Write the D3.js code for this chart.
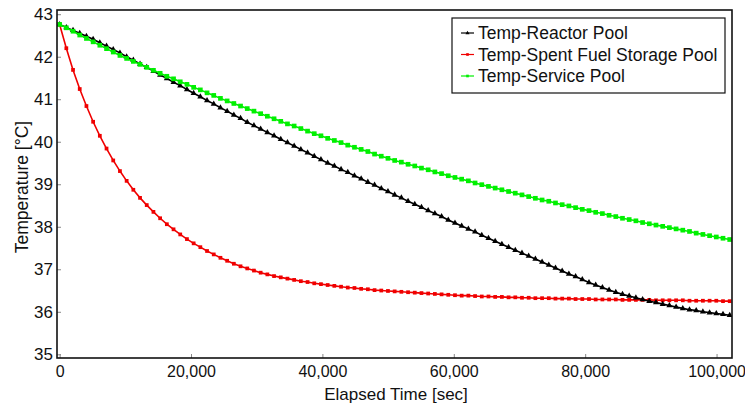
<!DOCTYPE html>
<html>
<head>
<meta charset="utf-8">
<script src="https://cdn.jsdelivr.net/npm/d3@7"></script>
<style>
  html, body { margin: 0; padding: 0; background: #fff; }
  svg { display: block; }
  text { font-family: Arial, "Liberation Sans", sans-serif; fill: #111; }
</style>
</head>
<body>
<svg id="chart" width="745" height="405"></svg>
<script>
// ---- Data ----
const times = [0,1020,2040,3060,4080,5100,6120,7140,8160,9180,10200,11220,12240,13260,14280,15300,16320,17340,18360,19380,20400,21420,22440,23460,24480,25500,26520,27540,28560,29580,30600,31620,32640,33660,34680,35700,36720,37740,38760,39780,40800,41820,42840,43860,44880,45900,46920,47940,48960,49980,51000,52020,53040,54060,55080,56100,57120,58140,59160,60180,61200,62220,63240,64260,65280,66300,67320,68340,69360,70380,71400,72420,73440,74460,75480,76500,77520,78540,79560,80580,81600,82620,83640,84660,85680,86700,87720,88740,89760,90780,91800,92820,93840,94860,95880,96900,97920,98940,99960,100980,102000];

const reactorPool = [42.76,42.69,42.62,42.55,42.48,42.41,42.33,42.25,42.17,42.09,42.00,41.92,41.83,41.75,41.66,41.57,41.49,41.40,41.32,41.23,41.14,41.06,40.97,40.89,40.80,40.72,40.63,40.55,40.46,40.38,40.30,40.22,40.14,40.06,39.98,39.90,39.82,39.74,39.66,39.58,39.50,39.43,39.35,39.28,39.20,39.13,39.05,38.98,38.90,38.83,38.75,38.68,38.60,38.53,38.46,38.38,38.31,38.24,38.16,38.09,38.02,37.95,37.88,37.80,37.73,37.66,37.59,37.52,37.45,37.38,37.31,37.24,37.17,37.10,37.03,36.96,36.89,36.83,36.76,36.69,36.63,36.57,36.51,36.46,36.41,36.37,36.33,36.29,36.25,36.22,36.18,36.15,36.11,36.08,36.05,36.03,36.00,35.98,35.96,35.94,35.92];

const spentFuelPool = [42.76,42.20,41.69,41.24,40.84,40.47,40.14,39.84,39.56,39.31,39.08,38.87,38.68,38.51,38.35,38.20,38.06,37.94,37.82,37.71,37.61,37.52,37.43,37.35,37.27,37.20,37.13,37.07,37.02,36.97,36.92,36.88,36.84,36.81,36.78,36.75,36.72,36.70,36.67,36.65,36.63,36.61,36.59,36.57,36.56,36.54,36.53,36.51,36.50,36.49,36.48,36.47,36.46,36.45,36.44,36.43,36.42,36.41,36.40,36.39,36.38,36.38,36.37,36.36,36.36,36.35,36.35,36.34,36.34,36.33,36.33,36.32,36.32,36.32,36.31,36.31,36.31,36.30,36.30,36.30,36.29,36.29,36.29,36.29,36.28,36.28,36.28,36.28,36.28,36.27,36.27,36.27,36.27,36.27,36.26,36.26,36.26,36.26,36.26,36.25,36.25];

const servicePool = [42.76,42.68,42.60,42.51,42.43,42.35,42.27,42.19,42.11,42.03,41.96,41.89,41.82,41.75,41.68,41.61,41.54,41.48,41.41,41.35,41.28,41.22,41.15,41.09,41.02,40.96,40.90,40.84,40.78,40.72,40.66,40.60,40.54,40.48,40.42,40.37,40.31,40.25,40.19,40.14,40.08,40.03,39.98,39.92,39.87,39.82,39.77,39.71,39.66,39.61,39.56,39.52,39.47,39.43,39.38,39.34,39.29,39.25,39.20,39.16,39.12,39.08,39.03,38.99,38.95,38.91,38.87,38.83,38.79,38.75,38.71,38.67,38.63,38.60,38.56,38.52,38.49,38.45,38.41,38.38,38.34,38.31,38.27,38.24,38.20,38.17,38.14,38.10,38.07,38.04,38.01,37.98,37.95,37.92,37.89,37.85,37.82,37.79,37.76,37.73,37.70];

const seriesNames = ["Temp-Reactor Pool", "Temp-Spent Fuel Storage Pool", "Temp-Service Pool"];
const seriesColors = ["#000000", "#f00000", "#00f000"];
const xTicks = [0, 20000, 40000, 60000, 80000, 100000];
const yTicks = [35, 36, 37, 38, 39, 40, 41, 42, 43];
const xTitle = "Elapsed Time [sec]";
const yTitle = "Temperature [\u00B0C]";

// ---- Layout ----
const plot = { left: 57, right: 732, top: 10, bottom: 358 };
const svg = d3.select("#chart");

const x = d3.scaleLinear().domain([-400, 102350]).range([plot.left, plot.right]);
const y = d3.scaleLinear().domain([34.913, 43.099]).range([plot.bottom, plot.top]);

svg.append("defs").append("clipPath").attr("id", "clip")
  .append("rect").attr("x", plot.left).attr("y", plot.top)
  .attr("width", plot.right - plot.left).attr("height", plot.bottom - plot.top);

const xAxis = d3.axisBottom(x).tickValues(xTicks).tickFormat(d3.format(",")).tickSizeInner(-4).tickSizeOuter(0).tickPadding(8);
const yAxis = d3.axisLeft(y).tickValues(yTicks).tickFormat(d3.format("d")).tickSizeInner(-4).tickSizeOuter(0).tickPadding(4);

const gx = svg.append("g").attr("transform", `translate(0,${plot.bottom})`).call(xAxis);
const gy = svg.append("g").attr("transform", `translate(${plot.left},0)`).call(yAxis);
[gx, gy].forEach(g => {
  g.select(".domain").remove();
  g.selectAll(".tick line").attr("stroke", "#888").attr("stroke-width", 1);
  g.selectAll(".tick text").attr("fill", "#111")
    .style("font-family", "Arial, 'Liberation Sans', sans-serif");
});
gx.selectAll(".tick text").style("font-size", "16px");
gy.selectAll(".tick text").style("font-size", "17px");

const seriesData = [reactorPool, spentFuelPool, servicePool];
const symbols = [
  d3.symbol().type(d3.symbolTriangle).size(16),
  d3.symbol().type(d3.symbolSquare).size(14),
  d3.symbol().type(d3.symbolSquare).size(22)
];
const order = [1, 0, 2];
const line = d3.line().x((d, i) => x(times[i])).y(d => y(d));
const plotG = svg.append("g").attr("clip-path", "url(#clip)");
order.forEach(k => {
  const g = plotG.append("g");
  g.append("path").datum(seriesData[k]).attr("d", line)
    .attr("fill", "none").attr("stroke", seriesColors[k]).attr("stroke-width", 1.6);
  g.selectAll("path.m").data(seriesData[k]).join("path").attr("class", "m")
    .attr("d", symbols[k])
    .attr("transform", (d, i) => `translate(${x(times[i])},${y(d)})`)
    .attr("fill", seriesColors[k]);
});

svg.append("rect").attr("x", plot.left).attr("y", plot.top)
  .attr("width", plot.right - plot.left).attr("height", plot.bottom - plot.top)
  .attr("fill", "none").attr("stroke", "#111").attr("stroke-width", 1.6);

svg.append("text").attr("x", 396).attr("y", 400).attr("text-anchor", "middle")
  .style("font-size", "17px").text(xTitle);
svg.append("text").attr("transform", "translate(28,187) rotate(-90)").attr("text-anchor", "middle")
  .style("font-size", "17.5px").text(yTitle);

const lg = svg.append("g");
lg.append("rect").attr("x", 452).attr("y", 18).attr("width", 273).attr("height", 75)
  .attr("fill", "#fff").attr("stroke", "#111").attr("stroke-width", 1.2);
seriesNames.forEach((name, k) => {
  const cy = 33 + k * 21.5;
  lg.append("line").attr("x1", 461).attr("x2", 474).attr("y1", cy).attr("y2", cy)
    .attr("stroke", seriesColors[k]).attr("stroke-width", 1.2);
  lg.append("path").attr("d", d3.symbol().type(k === 0 ? d3.symbolTriangle : d3.symbolSquare).size(7)())
    .attr("transform", `translate(467.5,${cy})`).attr("fill", seriesColors[k]);
  lg.append("text").attr("x", 478).attr("y", cy).attr("dy", "0.36em")
    .style("font-size", "17.5px").text(name);
});
</script>
</body>
</html>
